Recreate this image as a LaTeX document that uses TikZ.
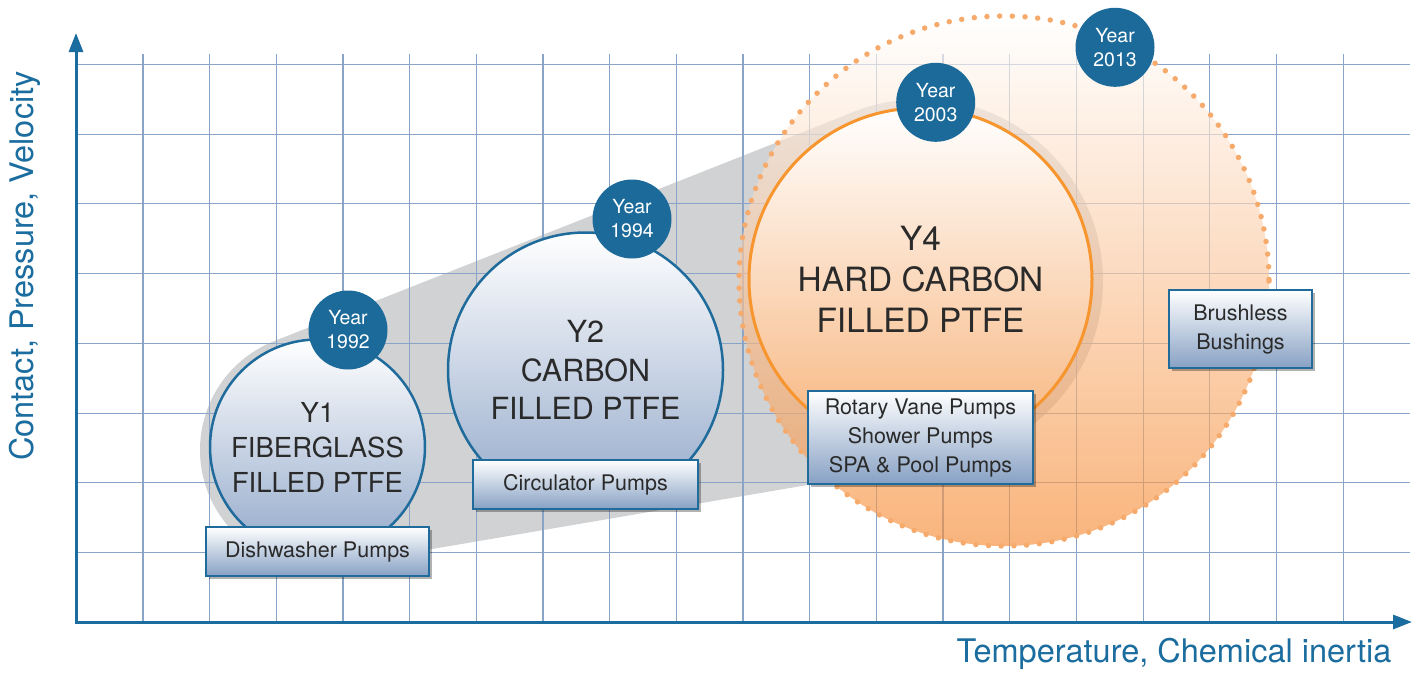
\documentclass[tikz,border=0pt]{standalone}
\usepackage{fontspec}
\setmainfont{TeX Gyre Heros}
\usetikzlibrary{arrows.meta,shadows}

\definecolor{axisblue}{HTML}{1C6D9F}
\definecolor{gridblue}{HTML}{8AA4C8}
\definecolor{hullgray}{HTML}{D1D2D4}
\definecolor{ringblue}{HTML}{1F6B9B}
\definecolor{badgeblue}{HTML}{1B6A9A}
\definecolor{circlebottom}{HTML}{93A9CA}
\definecolor{circlemid}{HTML}{DCE3EE}
\definecolor{boxbottom}{HTML}{87A1C4}
\definecolor{textgray}{HTML}{2A2A2A}
\definecolor{ptfeorange}{HTML}{F7952F}
\definecolor{dotorange}{HTML}{F6AA6C}
\definecolor{peach}{HTML}{F68C36}
\definecolor{peachmid}{HTML}{FDE8D6}
\definecolor{peachbottom}{HTML}{F7B47C}

\begin{document}
\begin{tikzpicture}[
  x=1pt, y=-1pt,
  gridline/.style={draw=gridblue, line width=1.1pt},
  axis/.style={draw=axisblue, line width=3pt, line join=miter,
    {Triangle[length=19pt,width=14pt]}-{Triangle[length=19pt,width=14pt]}},
  axislabel/.style={text=axisblue, font=\fontsize{32.5}{38}\selectfont},
  hull/.style={fill=hullgray},
  ptfe/.style={circle, draw=ringblue, line width=2.5pt, inner sep=0pt,
    top color=white, middle color=circlemid, bottom color=circlebottom,
    text=textgray, align=center},
  hardcarbon/.style={circle, draw=ptfeorange, line width=3pt, inner sep=0pt,
    top color=white, middle color=peachmid, bottom color=peachbottom,
    text=textgray, align=center},
  badge/.style={circle, fill=badgeblue, text=white, align=center,
    inner sep=0pt, minimum size=79pt, font=\fontsize{19.5}{24}\selectfont},
  appbox/.style={rectangle, draw=ringblue, line width=1.5pt, inner sep=0pt,
    top color=white, bottom color=boxbottom, text=textgray, align=center,
    font=\fontsize{21.5}{29}\selectfont,
    drop shadow={shadow xshift=2.5pt, shadow yshift=-2.5pt, fill=black, opacity=0.3}},
  dotring/.style={draw=dotorange, line width=5.5pt, line cap=round,
    dash pattern=on 0pt off 12.7pt}
]
\useasboundingbox (0,0) rectangle (1417,673);

% grey band behind the circles
\fill[hull] (274.0,341.2) -- (854.1,111.8) -- (951.6,460.4) -- (336.7,565.3) -- cycle;
\fill[hull] (317,450) circle (117);
\fill[hull] (921,281) circle (182);

% grid
\foreach \i in {0,...,18} {
  \draw[gridline] ({143+66.67*\i},54) -- ({143+66.67*\i},622);
}
\foreach \j in {0,...,7} {
  \draw[gridline] (76,{64.3+69.77*\j}) -- (1410,{64.3+69.77*\j});
}

% future area
\shade[top color=white, bottom color=peach, opacity=0.65] (1004,281) circle (265);
\draw[dotring] (1004,281) circle (265);

% materials
\node[hardcarbon, minimum size=343pt, font=\fontsize{33.4}{41}\selectfont]
  (Y4) at (920.5,279.5) {Y4\\HARD CARBON\\FILLED PTFE};
\node[ptfe, minimum size=215pt, font=\fontsize{27.5}{35}\selectfont]
  (Y1) at (317.5,447) {Y1\\FIBERGLASS\\FILLED PTFE};
\node[ptfe, minimum size=275pt, font=\fontsize{30.5}{38.5}\selectfont]
  (Y2) at (585.5,370) {Y2\\CARBON\\FILLED PTFE};

% applications
\node[appbox, minimum width=223pt, minimum height=49pt] (dish) at (317.5,551.5) {Dishwasher Pumps};
\node[appbox, minimum width=225pt, minimum height=49pt] (circ) at (585.5,484.5) {Circulator Pumps};
\node[appbox, minimum width=225pt, minimum height=93pt] (rotary) at (920.5,437.5)
  {Rotary Vane Pumps\\Shower Pumps\\SPA \& Pool Pumps};
\node[appbox, minimum width=143pt, minimum height=78pt] (brush) at (1240.5,329) {Brushless\\Bushings};

% years
\node[badge] (yr1992) at (348,330) {Year\\1992};
\node[badge] (yr1994) at (632,219) {Year\\1994};
\node[badge] (yr2003) at (935.7,102.3) {Year\\2003};
\node[badge] (yr2013) at (1115,47.3) {Year\\2013};

% axes
\coordinate (origin) at (76,622);
\coordinate (ytip) at (76,33);
\coordinate (xtip) at (1412,622);
\draw[axis] (ytip) -- (origin) -- (xtip);

\node[axislabel, anchor=base] (xlabel) at (1174,662) {Temperature, Chemical inertia};
\node[axislabel, anchor=base, rotate=90] (ylabel) at (34,266) {Contact, Pressure, Velocity};

\end{tikzpicture}
\end{document}
